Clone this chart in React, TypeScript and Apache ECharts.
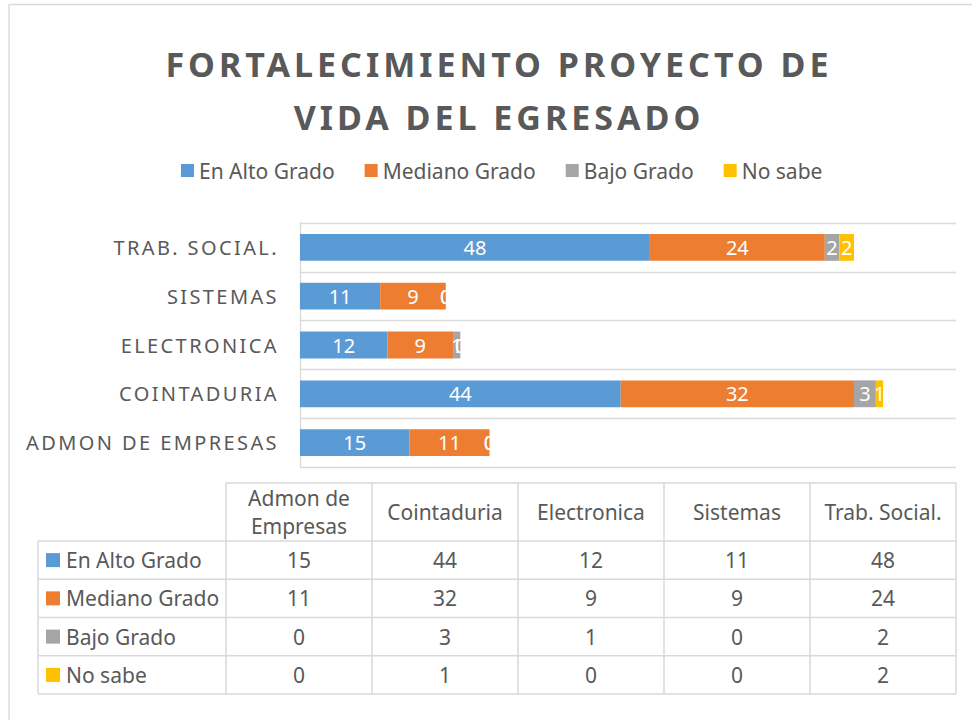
import React, { useEffect, useRef } from "react";
import * as echarts from "echarts";

const categories = ["Admon de Empresas", "Cointaduria", "Electronica", "Sistemas", "Trab. Social."];
const seriesNames = ["En Alto Grado", "Mediano Grado", "Bajo Grado", "No sabe"];
const enAltoGrado = [15, 44, 12, 11, 48];
const medianoGrado = [11, 32, 9, 9, 24];
const bajoGrado = [0, 3, 1, 0, 2];
const noSabe = [0, 1, 0, 0, 2];
const colors = ["#5B9BD5", "#ED7D31", "#A5A5A5", "#FFC000"];
const titleLines = ["FORTALECIMIENTO PROYECTO DE", "VIDA DEL EGRESADO"];

const FONT = "'Noto Sans', sans-serif";
const TXT = "#595959";
const LINE = "#d9d9d9";

function wrapHeader(s: string): string {
  if (s.length <= 14) return s;
  const i = s.lastIndexOf(" ");
  return i > 0 ? s.slice(0, i) + "\n" + s.slice(i + 1) : s;
}

export default function App() {
  const ref = useRef<HTMLDivElement>(null);
  useEffect(() => {
    document.body.style.margin = "0";
    const el = ref.current!;
    const chart = echarts.init(el, undefined, { renderer: "svg" });
    const values = [enAltoGrado, medianoGrado, bajoGrado, noSabe];

    // table layout
    const x0 = 38, x1 = 226, colW = 146, top = 483, headH = 58, rowH = 38.25;
    const right = x1 + colW * categories.length;
    const bottom = top + headH + rowH * seriesNames.length;
    const lineStyle = { stroke: LINE, lineWidth: 1.5 };
    const g: any[] = [];
    g.push({ type: "rect", silent: true, z: -10, shape: { x: 9, y: 4.5, width: 1400, height: 1000 }, style: { fill: "none", stroke: LINE, lineWidth: 1.3 } });
    // chart title
    g.push({
      type: "text", silent: true,
      style: { text: titleLines.join("\n"), x: 499, y: 37.5, fill: TXT, fontSize: 34, fontWeight: "bold", fontFamily: FONT, lineHeight: 53, align: "center", verticalAlign: "top", textAlign: "center", textVerticalAlign: "top" },
    });
    g.push({ type: "line", silent: true, shape: { x1: x1, y1: top, x2: right, y2: top }, style: lineStyle });
    for (let i = 0; i <= categories.length; i++) {
      const x = x1 + i * colW;
      g.push({ type: "line", silent: true, shape: { x1: x, y1: top, x2: x, y2: bottom }, style: lineStyle });
    }
    g.push({ type: "line", silent: true, shape: { x1: x0, y1: top + headH, x2: x0, y2: bottom }, style: lineStyle });
    for (let r = 0; r <= seriesNames.length; r++) {
      const y = top + headH + r * rowH;
      g.push({ type: "line", silent: true, shape: { x1: x0, y1: y, x2: right, y2: y }, style: lineStyle });
    }
    categories.forEach((c, i) => {
      g.push({
        type: "text", silent: true,
        style: { text: wrapHeader(c), x: x1 + (i + 0.5) * colW, y: top + headH / 2, fill: TXT, fontSize: 21, fontFamily: FONT, lineHeight: 28, align: "center", verticalAlign: "middle", textAlign: "center", textVerticalAlign: "middle" },
      });
    });
    seriesNames.forEach((s, r) => {
      const cy = top + headH + (r + 0.5) * rowH;
      g.push({ type: "rect", silent: true, shape: { x: x0 + 8, y: cy - 7, width: 14, height: 14 }, style: { fill: colors[r] } });
      g.push({ type: "text", silent: true, style: { text: s, x: x0 + 28, y: cy, fill: TXT, fontSize: 21, fontFamily: FONT, align: "left", verticalAlign: "middle", textAlign: "left", textVerticalAlign: "middle" } });
      values[r].forEach((v, i) => {
        g.push({ type: "text", silent: true, style: { text: String(v), x: x1 + (i + 0.5) * colW, y: cy, fill: TXT, fontSize: 21, fontFamily: FONT, align: "center", verticalAlign: "middle", textAlign: "center", textVerticalAlign: "middle" } });
      });
    });

    const upperCats = categories.map((c) => c.toUpperCase());
    const applySpacing = () => {
      el.querySelectorAll("text").forEach((t) => {
        const s = (t.textContent || "").trim();
        if (titleLines.includes(s)) t.setAttribute("letter-spacing", "4");
        else if (upperCats.includes(s)) t.setAttribute("letter-spacing", "2.4");
      });
    };
    chart.on("finished", applySpacing);

    chart.setOption({
      animation: false,
      backgroundColor: "#ffffff",
      color: colors,
      legend: {
        data: seriesNames,
        left: 181,
        top: 160,
        padding: 0,
        itemWidth: 13,
        itemHeight: 13,
        itemGap: 30,
        icon: "rect",
        textStyle: { fontFamily: FONT, fontSize: 21, color: TXT },
      },
      grid: { left: 300, right: 16, top: 223, bottom: 253, containLabel: false },
      xAxis: { type: "value", min: 0, max: 90, interval: 10, show: false },
      yAxis: {
        type: "category",
        data: categories,
        axisLine: { show: true, lineStyle: { color: LINE, width: 1.3 } },
        axisTick: { show: false },
        splitLine: { show: true, lineStyle: { color: LINE, width: 1.3 } },
        axisLabel: {
          formatter: (v: string) => v.toUpperCase(),
          color: TXT, fontSize: 20, fontFamily: FONT, margin: 21,
        },
      },
      series: seriesNames.map((name, k) => ({
        name,
        type: "bar",
        stack: "total",
        barCategoryGap: "45%",
        data: values[k],
        label: { show: true, position: "inside", color: "#ffffff", fontSize: 20, fontFamily: FONT },
      })),
      graphic: { elements: g },
    });
    applySpacing();
    const t1 = setTimeout(applySpacing, 50);
    const t2 = setTimeout(applySpacing, 300);
    return () => {
      clearTimeout(t1);
      clearTimeout(t2);
      chart.dispose();
    };
  }, []);
  return <div ref={ref} style={{ width: 972, height: 720 }} />;
}
